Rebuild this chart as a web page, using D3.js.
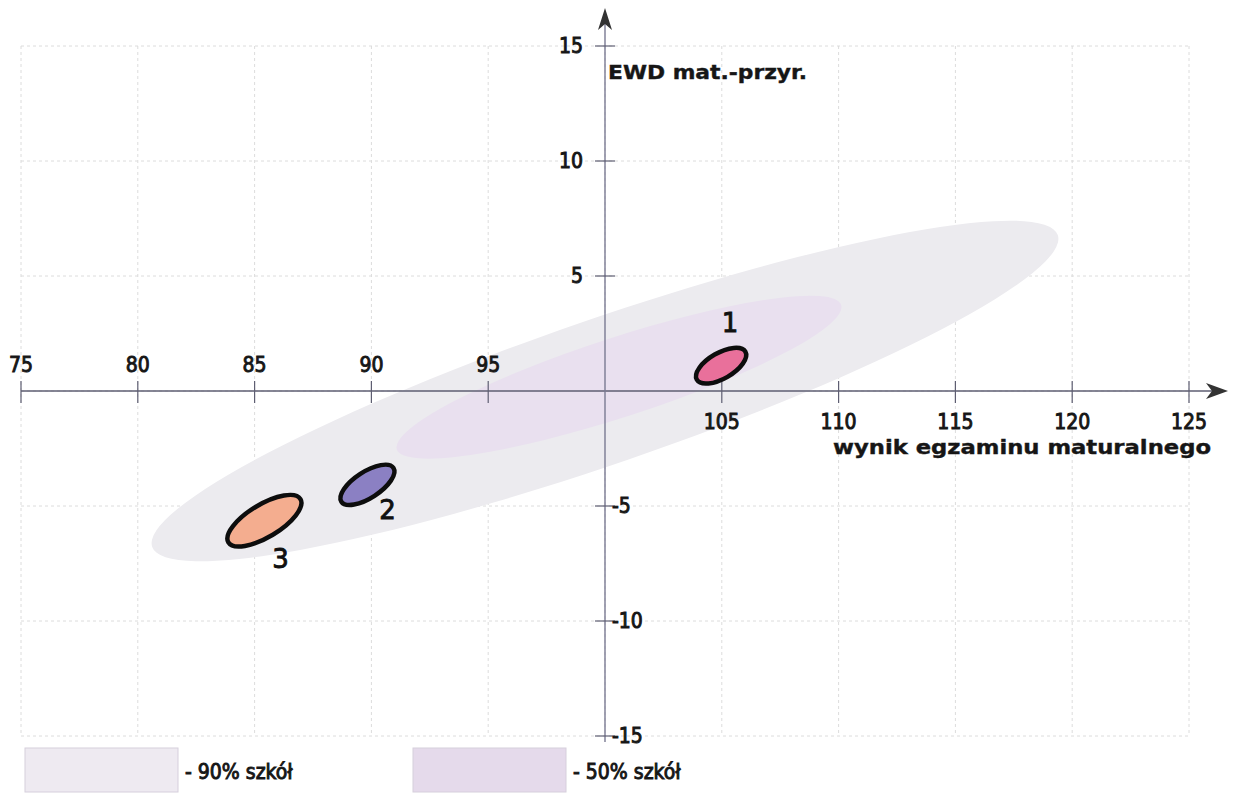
<!DOCTYPE html>
<html>
<head>
<meta charset="utf-8">
<script src="https://cdn.jsdelivr.net/npm/d3@7/dist/d3.min.js"></script>
<style>
  html, body { margin: 0; padding: 0; background: #fff; }
  svg { display: block; }
</style>
</head>
<body>
<svg id="chart" width="1234" height="793"></svg>
<script>
// ---------- data ----------
const xTicks = [75, 80, 85, 90, 95, 100, 105, 110, 115, 120, 125];
const yTicks = [-15, -10, -5, 0, 5, 10, 15];
const xTickLabelsAbove = ["75", "80", "85", "90", "95"];
const xTickLabelsBelow = ["105", "110", "115", "120", "125"];
const yTickLabelsPos = ["5", "10", "15"];
const yTickLabelsNeg = ["-5", "-10", "-15"];

const xAxisTitle = "wynik egzaminu maturalnego";
const yAxisTitle = "EWD mat.-przyr.";

// population regions (ellipses): centre, semi-axes (x units), tilt in degrees
const regionNames = ["90% szkół", "50% szkół"];
const regionCx = [100.0, 100.6];
const regionCy = [0.0, 0.6];
const regionA = [20.5, 10.0];
const regionB = [3.1, 1.7];
const regionAngle = [19, 18];

// schools (hand‑drawn ellipses)
const schoolNames = ["1", "2", "3"];
const schoolCx = [104.97, 89.83, 85.42];
const schoolCy = [1.1, -4.08, -5.64];
const schoolA = [1.2, 1.33, 1.8];
const schoolB = [0.55, 0.56, 0.7];
const schoolAngle = [30, 33, 31];

// ---------- drawing ----------
const svg = d3.select("#chart");
const x = d3.scaleLinear().domain([75, 125]).range([21, 1189]);
const y = d3.scaleLinear().domain([-15, 15]).range([736, 46]);
const k = (x(125) - x(75)) / 50; // px per unit

const regionFill = ["#ecebef", "#e9e0ef"];
const legendFill = ["#eeeaf1", "#e5daeb"];
const schoolFill = ["#e9709b", "#8b80c3", "#f4ad8f"];

// grid
const grid = svg.append("g").attr("stroke", "#dcdcdc").attr("stroke-width", 1)
  .attr("stroke-dasharray", "3,3");
grid.selectAll("line.v").data(xTicks).join("line")
  .attr("x1", d => x(d)).attr("x2", d => x(d))
  .attr("y1", y(15)).attr("y2", y(-15));
grid.selectAll("line.h").data(yTicks).join("line")
  .attr("x1", x(75)).attr("x2", x(125))
  .attr("y1", d => y(d)).attr("y2", d => y(d));

// regions
svg.append("g").selectAll("ellipse").data(regionNames).join("ellipse")
  .attr("cx", (d, i) => x(regionCx[i]))
  .attr("cy", (d, i) => y(regionCy[i]))
  .attr("rx", (d, i) => regionA[i] * k)
  .attr("ry", (d, i) => regionB[i] * k)
  .attr("transform", (d, i) => `rotate(${-regionAngle[i]},${x(regionCx[i])},${y(regionCy[i])})`)
  .attr("fill", (d, i) => regionFill[i]);

// axes
const axisColor = "#5e5e72";
svg.append("line").attr("x1", x(75)).attr("x2", 1222).attr("y1", y(0)).attr("y2", y(0))
  .attr("stroke", axisColor).attr("stroke-width", 1.6);
svg.append("line").attr("x1", x(100)).attr("x2", x(100)).attr("y1", y(-15) + 6).attr("y2", 14)
  .attr("stroke", "#7a7a92").attr("stroke-width", 1.4);
// arrowheads
const ax = 1228, ay = y(0);
svg.append("path")
  .attr("d", `M${ax},${ay} L${ax - 22},${ay - 8} L${ax - 16},${ay} L${ax - 22},${ay + 8} Z`)
  .attr("fill", "#333");
const bx = x(100), by = 8;
svg.append("path")
  .attr("d", `M${bx},${by} L${bx - 7},${by + 22} L${bx},${by + 16} L${bx + 7},${by + 22} Z`)
  .attr("fill", "#333");

// tick marks
svg.append("g").attr("stroke", axisColor).attr("stroke-width", 1.2)
  .selectAll("line").data(xTicks.filter(d => d !== 100)).join("line")
  .attr("x1", d => x(d)).attr("x2", d => x(d))
  .attr("y1", y(0) - 10).attr("y2", y(0) + 12);
svg.append("g").attr("stroke", axisColor).attr("stroke-width", 1.2)
  .selectAll("line").data(yTicks.filter(d => d !== 0)).join("line")
  .attr("x1", x(100) - 10).attr("x2", x(100) + 10)
  .attr("y1", d => y(d)).attr("y2", d => y(d));

// tick labels
const tickFont = "'DejaVu Sans Condensed', 'DejaVu Sans', sans-serif";
const tl = svg.append("g").attr("font-family", tickFont).attr("font-size", 21)
  .attr("fill", "#161616").attr("stroke", "#161616").attr("stroke-width", 0.9)
  .style("font-stretch", "condensed");
tl.selectAll("text.a").data(xTickLabelsAbove).join("text")
  .attr("x", d => x(+d)).attr("y", y(0) - 19)
  .attr("text-anchor", "middle").text(d => d);
tl.selectAll("text.b").data(xTickLabelsBelow).join("text")
  .attr("x", d => x(+d)).attr("y", y(0) + 38)
  .attr("text-anchor", "middle").text(d => d);
tl.selectAll("text.c").data(yTickLabelsPos).join("text")
  .attr("x", x(100) - 22).attr("y", d => y(+d) + 7)
  .attr("text-anchor", "end").text(d => d);
tl.selectAll("text.d").data(yTickLabelsNeg).join("text")
  .attr("x", x(100) + 7).attr("y", d => y(+d) + 7)
  .attr("text-anchor", "start").text(d => d);

// axis titles
svg.append("text").attr("x", x(100) + 3).attr("y", 79)
  .attr("font-family", "'DejaVu Sans', sans-serif").attr("font-weight", "bold")
  .attr("font-size", 20).attr("fill", "#161616").attr("stroke", "#161616").attr("stroke-width", 0.4)
  .attr("textLength", 199).attr("lengthAdjust", "spacingAndGlyphs")
  .text(yAxisTitle);
svg.append("text").attr("x", 833).attr("y", 454)
  .attr("font-family", "'DejaVu Sans', sans-serif").attr("font-weight", "bold")
  .attr("font-size", 20).attr("fill", "#161616").attr("stroke", "#161616").attr("stroke-width", 0.4)
  .attr("textLength", 378).attr("lengthAdjust", "spacingAndGlyphs")
  .text(xAxisTitle);

// schools
svg.append("g").selectAll("ellipse").data(schoolNames).join("ellipse")
  .attr("cx", (d, i) => x(schoolCx[i]))
  .attr("cy", (d, i) => y(schoolCy[i]))
  .attr("rx", (d, i) => schoolA[i] * k)
  .attr("ry", (d, i) => schoolB[i] * k)
  .attr("transform", (d, i) => `rotate(${-schoolAngle[i]},${x(schoolCx[i])},${y(schoolCy[i])})`)
  .attr("fill", (d, i) => schoolFill[i])
  .attr("stroke", "#0d0d0d").attr("stroke-width", 4.5);

const labelOffset = [[9, -34], [20, 34], [16, 47]];
svg.append("g").selectAll("text").data(schoolNames).join("text")
  .attr("x", (d, i) => x(schoolCx[i]) + labelOffset[i][0])
  .attr("y", (d, i) => y(schoolCy[i]) + labelOffset[i][1])
  .attr("text-anchor", "middle")
  .attr("font-family", "'DejaVu Sans', sans-serif")
  .attr("font-size", 26)
  .attr("fill", "#111").attr("stroke", "#111").attr("stroke-width", 0.9)
  .text(d => d);

// legend
const legX = [25, 413];
const lg = svg.append("g");
lg.selectAll("rect").data(regionNames).join("rect")
  .attr("x", (d, i) => legX[i]).attr("y", 748)
  .attr("width", 153).attr("height", 44)
  .attr("fill", (d, i) => legendFill[i])
  .attr("stroke", "#d6cfdc").attr("stroke-width", 1);
lg.selectAll("text").data(regionNames).join("text")
  .attr("x", (d, i) => legX[i] + 160).attr("y", 779)
  .attr("font-family", tickFont).style("font-stretch", "condensed")
  .attr("font-size", 21).attr("fill", "#161616").attr("stroke", "#161616").attr("stroke-width", 0.9)
  .text(d => "- " + d);
</script>
</body>
</html>
